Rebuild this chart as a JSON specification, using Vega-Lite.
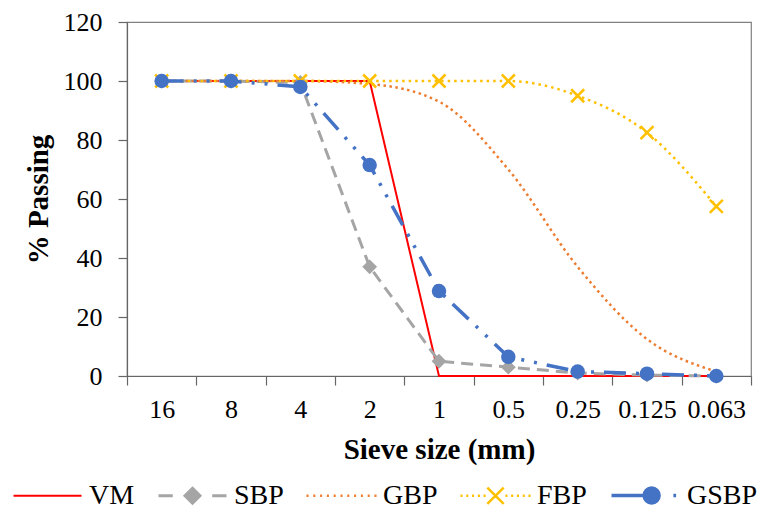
{
  "$schema": "https://vega.github.io/schema/vega-lite/v6.json",
  "width": 624,
  "height": 354,
  "autosize": "none",
  "padding": {"left": 127, "top": 22, "right": 17, "bottom": 135},
  "background": "white",
  "config": {
    "font": "Liberation Serif",
    "view": {"stroke": "#808080", "strokeWidth": 1.2},
    "axis": {
      "labelFont": "Liberation Serif",
      "labelFontSize": 26,
      "labelColor": "#000000",
      "titleFont": "Liberation Serif",
      "titleFontSize": 29,
      "titleFontWeight": "bold",
      "titleColor": "#000000",
      "domainColor": "#666666",
      "domainWidth": 1.2,
      "tickColor": "#666666",
      "tickWidth": 1.2,
      "tickSize": 9,
      "grid": false
    }
  },
  "data": {
    "values": [
      {"sieve": "16", "series": "VM", "pass": 100},
      {"sieve": "8", "series": "VM", "pass": 100},
      {"sieve": "4", "series": "VM", "pass": 100},
      {"sieve": "2", "series": "VM", "pass": 100},
      {"sieve": "1", "series": "VM", "pass": 0},
      {"sieve": "0.5", "series": "VM", "pass": 0},
      {"sieve": "0.25", "series": "VM", "pass": 0},
      {"sieve": "0.125", "series": "VM", "pass": 0},
      {"sieve": "0.063", "series": "VM", "pass": 0},
      {"sieve": "16", "series": "SBP", "pass": 100},
      {"sieve": "8", "series": "SBP", "pass": 100},
      {"sieve": "4", "series": "SBP", "pass": 99.5},
      {"sieve": "2", "series": "SBP", "pass": 37},
      {"sieve": "1", "series": "SBP", "pass": 5},
      {"sieve": "0.5", "series": "SBP", "pass": 3},
      {"sieve": "0.25", "series": "SBP", "pass": 1},
      {"sieve": "0.125", "series": "SBP", "pass": 0.3},
      {"sieve": "0.063", "series": "SBP", "pass": 0},
      {"sieve": "16", "series": "GBP", "pass": 100},
      {"sieve": "8", "series": "GBP", "pass": 100},
      {"sieve": "4", "series": "GBP", "pass": 100},
      {"sieve": "2", "series": "GBP", "pass": 99},
      {"sieve": "1", "series": "GBP", "pass": 93},
      {"sieve": "0.5", "series": "GBP", "pass": 70},
      {"sieve": "0.25", "series": "GBP", "pass": 37},
      {"sieve": "0.125", "series": "GBP", "pass": 12.5},
      {"sieve": "0.063", "series": "GBP", "pass": 1.5},
      {"sieve": "16", "series": "FBP", "pass": 100},
      {"sieve": "8", "series": "FBP", "pass": 100},
      {"sieve": "4", "series": "FBP", "pass": 100},
      {"sieve": "2", "series": "FBP", "pass": 100},
      {"sieve": "1", "series": "FBP", "pass": 100},
      {"sieve": "0.5", "series": "FBP", "pass": 100},
      {"sieve": "0.25", "series": "FBP", "pass": 95},
      {"sieve": "0.125", "series": "FBP", "pass": 82.5},
      {"sieve": "0.063", "series": "FBP", "pass": 57.5},
      {"sieve": "16", "series": "GSBP", "pass": 100},
      {"sieve": "8", "series": "GSBP", "pass": 100},
      {"sieve": "4", "series": "GSBP", "pass": 98},
      {"sieve": "2", "series": "GSBP", "pass": 71.5},
      {"sieve": "1", "series": "GSBP", "pass": 28.8},
      {"sieve": "0.5", "series": "GSBP", "pass": 6.5},
      {"sieve": "0.25", "series": "GSBP", "pass": 1.5},
      {"sieve": "0.125", "series": "GSBP", "pass": 0.8},
      {"sieve": "0.063", "series": "GSBP", "pass": 0}
    ]
  },
  "encoding": {
    "x": {
      "field": "sieve",
      "type": "ordinal",
      "sort": ["16", "8", "4", "2", "1", "0.5", "0.25", "0.125", "0.063"],
      "bandPosition": 0.5,
      "scale": {"type": "band", "domain": ["16", "8", "4", "2", "1", "0.5", "0.25", "0.125", "0.063"], "paddingInner": 0, "paddingOuter": 0},
      "axis": {"title": "Sieve size (mm)", "labelAngle": 0, "tickBand": "extent", "labelPadding": 11, "titlePadding": 13}
    },
    "y": {
      "field": "pass",
      "type": "quantitative",
      "scale": {"domain": [0, 120], "nice": false},
      "axis": {"title": "% Passing", "values": [0, 20, 40, 60, 80, 100, 120], "labelPadding": 16, "titlePadding": 10}
    },
    "color": {
      "field": "series",
      "type": "nominal",
      "scale": {"domain": ["VM", "SBP", "GBP", "FBP", "GSBP"], "range": ["#FF0000", "#A5A5A5", "#ED7D31", "#FFC000", "#4472C4"]},
      "legend": {
        "orient": "none",
        "legendX": -115,
        "legendY": 438,
        "direction": "horizontal",
        "columns": 5,
        "title": null,
        "symbolSize": 4624,
        "symbolOpacity": 1,
        "labelFont": "Liberation Serif",
        "labelFontSize": 28,
        "labelColor": "#000000",
        "labelOffset": 6,
        "columnPadding": 17,
        "padding": 0,
        "labelLimit": 0,
        "encoding": {
          "symbols": {
            "fill": {"value": {"expr": "scale('color', datum.value)"}},
            "stroke": {"value": {"expr": "scale('color', datum.value)"}},
            "strokeWidth": {"value": {"expr": "(datum.value == 'GSBP' ? 3.5 : (datum.value == 'SBP' ? 3 : (datum.value == 'VM' ? 2 : 2.5)))"}},
            "strokeDash": {"value": []},
            "opacity": {"value": 1}
          }
        }
      }
    }
  },
  "layer": [
    {
      "transform": [{"filter": "datum.series == 'VM'"}],
      "mark": {"type": "line", "strokeWidth": 2}
    },
    {
      "transform": [{"filter": "datum.series == 'SBP'"}],
      "mark": {"type": "line", "strokeWidth": 3, "strokeDash": [12, 7]}
    },
    {
      "transform": [{"filter": "datum.series == 'SBP'"}],
      "mark": {"type": "point", "shape": "diamond", "filled": true, "opacity": 1, "size": 220}
    },
    {
      "transform": [{"filter": "datum.series == 'GBP'"}],
      "mark": {"type": "line", "interpolate": "monotone", "strokeWidth": 2.5, "strokeDash": [2.5, 3.5]}
    },
    {
      "transform": [{"filter": "datum.series == 'FBP'"}],
      "mark": {"type": "line", "interpolate": "monotone", "strokeWidth": 2.5, "strokeDash": [2.5, 4]}
    },
    {
      "transform": [{"filter": "datum.series == 'FBP'"}],
      "mark": {"type": "point", "shape": "M-1,-1L1,1M1,-1L-1,1", "filled": false, "opacity": 1, "strokeWidth": 2.5, "size": 169}
    },
    {
      "transform": [{"filter": "datum.series == 'GSBP'"}],
      "mark": {"type": "line", "strokeWidth": 3.5, "strokeDash": [22, 10, 3, 10, 3, 10]}
    },
    {
      "transform": [{"filter": "datum.series == 'GSBP'"}],
      "mark": {"type": "point", "shape": "circle", "filled": true, "opacity": 1, "size": 210}
    },
    {
      "transform": [{"filter": "datum.sieve == '16'"}],
      "mark": {"type": "point", "filled": true, "opacity": 0},
      "encoding": {
        "shape": {
          "field": "series",
          "type": "nominal",
          "scale": {
            "domain": ["VM", "SBP", "GBP", "FBP", "GSBP"],
            "range": [
              "M-1,0H1",
              "M-1,0H-0.58M0.58,0H1M0,-0.22L0.22,0L0,0.22L-0.22,0Z",
              "M-1.03,0H-0.97M-0.83,0H-0.77M-0.63,0H-0.57M-0.43,0H-0.37M-0.23,0H-0.17M-0.03,0H0.03M0.17,0H0.23M0.37,0H0.43M0.57,0H0.63M0.77,0H0.83M0.97,0H1.03",
              "M-1.03,0H-0.97M-0.86,0H-0.8M-0.69,0H-0.63M-0.52,0H-0.46M-0.35,0H-0.29M0.29,0H0.35M0.46,0H0.52M0.63,0H0.69M0.8,0H0.86M0.97,0H1.03M-0.24,-0.24L0.24,0.24M0.24,-0.24L-0.24,0.24",
              "M-1,0H0.1M0.82,0H0.9M0.4,0A0.22,0.22 0 1,1 -0.04,0A0.22,0.22 0 1,1 0.4,0Z"
            ]
          },
          "legend": {
            "orient": "none",
            "legendX": -115,
            "legendY": 438,
            "direction": "horizontal",
            "columns": 5,
            "title": null,
            "symbolSize": 4624,
            "symbolOpacity": 1,
            "labelFont": "Liberation Serif",
            "labelFontSize": 28,
            "labelColor": "#000000",
            "labelOffset": 6,
            "columnPadding": 17,
            "padding": 0,
            "labelLimit": 0,
            "encoding": {
              "symbols": {
                "fill": {"value": {"expr": "scale('color', datum.value)"}},
                "stroke": {"value": {"expr": "scale('color', datum.value)"}},
                "strokeWidth": {"value": {"expr": "(datum.value == 'GSBP' ? 3.5 : (datum.value == 'SBP' ? 3 : (datum.value == 'VM' ? 2 : 2.5)))"}},
                "strokeDash": {"value": []},
                "opacity": {"value": 1}
              }
            }
          }
        }
      }
    }
  ]
}
